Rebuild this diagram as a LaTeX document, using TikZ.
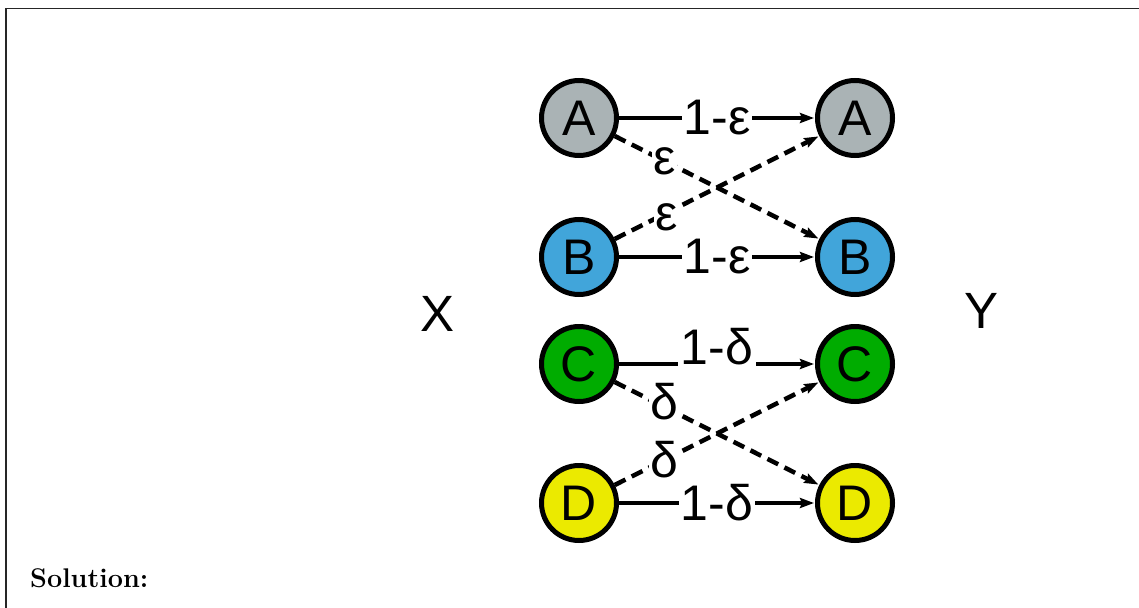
\documentclass[tikz,border=0pt]{standalone}
\usepackage{fontspec}
\newfontfamily\diagfont{Liberation Sans}
\usetikzlibrary{arrows.meta}
\definecolor{stateA}{HTML}{AAB3B5}
\definecolor{stateB}{HTML}{41A5DA}
\definecolor{stateC}{HTML}{00AC00}
\definecolor{stateD}{HTML}{EBEA00}
\begin{document}
\begin{tikzpicture}[x=1pt,y=-1pt,
  state/.style={circle,draw=black,line width=5pt,minimum size=75pt,inner sep=0pt,
    font=\diagfont\fontsize{50}{50}\selectfont},
  link/.style={line width=4.5pt,-{Stealth[length=14pt,width=10pt,inset=2pt]},shorten >=1pt},
  cross/.style={link,dash pattern=on 12pt off 7pt},
  prob/.style={fill=white,inner sep=1.5pt,font=\diagfont\fontsize{50}{50}\selectfont},
  side/.style={font=\diagfont\fontsize{51}{51}\selectfont}]
\useasboundingbox (0,0) rectangle (1139,607);
\draw[black!85,line width=1.4pt] (6,1000) -- (6,8.5) -- (1200,8.5);

% channel inputs (left) and outputs (right)
\node[state,fill=stateA] (xA) at (579,118) {A};
\node[state,fill=stateB] (xB) at (579,257) {B};
\node[state,fill=stateC] (xC) at (579,364) {C};
\node[state,fill=stateD] (xD) at (579,503) {D};
\node[state,fill=stateA] (yA) at (855,118) {A};
\node[state,fill=stateB] (yB) at (855,257) {B};
\node[state,fill=stateC] (yC) at (855,364) {C};
\node[state,fill=stateD] (yD) at (855,503) {D};

\node[side] (X) at (438,314) {X};
\node[side] (Y) at (981,311) {Y};

% first pair: crossover probability epsilon
\draw[link] (xA) -- node[prob] {1-ε} (yA);
\draw[link] (xB) -- node[prob] {1-ε} (yB);
\draw[cross] (xA) -- node[prob,pos=0.245] {ε} (yB);
\draw[cross] (xB) -- node[prob,pos=0.255,yshift=-5pt] {ε} (yA);

% second pair: crossover probability delta
\draw[link] (xC) -- node[prob,anchor=base,inner sep=2.5pt] {1-δ} (yC);
\draw[link] (xD) -- node[prob] {1-δ} (yD);
\draw[cross] (xC) -- node[prob,pos=0.245,yshift=6pt] {δ} (yD);
\draw[cross] (xD) -- node[prob,pos=0.245] {δ} (yC);

\node[anchor=base west,font=\fontsize{27}{30}\selectfont\bfseries,inner sep=0pt] (sol) at (30,587) {Solution:};
\end{tikzpicture}
\end{document}
